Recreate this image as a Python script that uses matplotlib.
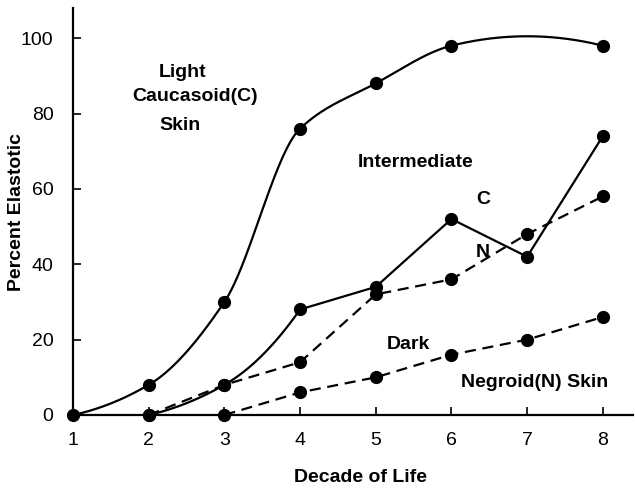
import numpy as np
import matplotlib
matplotlib.use("Agg")
import matplotlib.pyplot as plt

plt.rcParams["font.family"] = ["Liberation Sans", "DejaVu Sans"]

# data
light_x = [1, 2, 3, 4, 5, 6, 8]
light_y = [0, 8, 30, 76, 88, 98, 98]

inter_c_x = [2, 3, 4, 5, 6, 7, 8]
inter_c_y = [0, 8, 28, 34, 52, 42, 74]

inter_n_x = [2, 3, 4, 5, 6, 7, 8]
inter_n_y = [0, 8, 14, 32, 36, 48, 58]

dark_x = [3, 4, 5, 6, 7, 8]
dark_y = [0, 6, 10, 16, 20, 26]

xticks = [1, 2, 3, 4, 5, 6, 7, 8]
yticks = [0, 20, 40, 60, 80, 100]


def smooth(xs, ys, n=40):
    # cubic hermite curve through the points (drawing only, markers use raw data)
    x = np.asarray(xs, dtype=float)
    y = np.asarray(ys, dtype=float)
    d = np.diff(y) / np.diff(x)
    m = np.zeros(len(x))
    for i in range(1, len(x) - 1):
        a, b = d[i - 1], d[i]
        if a * b > 0:
            m[i] = 2 * a * b / (a + b)
        else:
            m[i] = (a + b) / 2
    m[0] = 2 * d[0] - m[1]
    m[-1] = 2 * d[-1] - m[-2]
    out_x, out_y = [], []
    for i in range(len(x) - 1):
        h = x[i + 1] - x[i]
        t = np.linspace(0, 1, n)
        h00 = 2 * t ** 3 - 3 * t ** 2 + 1
        h10 = t ** 3 - 2 * t ** 2 + t
        h01 = -2 * t ** 3 + 3 * t ** 2
        h11 = t ** 3 - t ** 2
        out_x.extend(x[i] + t * h)
        out_y.extend(h00 * y[i] + h10 * h * m[i] + h01 * y[i + 1] + h11 * h * m[i + 1])
    return out_x, out_y


fig = plt.figure(figsize=(6.35, 4.88), dpi=100)
ax = fig.add_axes([0.1150, 0.1496, 0.8820, 0.834])

lw = 1.6
ms = 8.5

# light caucasoid skin
sx, sy = smooth(light_x, light_y)
ax.plot(sx, sy, color="black", lw=lw, clip_on=False)
ax.plot(light_x, light_y, "o", color="black", ms=ms, clip_on=False)

# intermediate, caucasoid (curved start, then straight)
sx, sy = smooth(inter_c_x[:3], inter_c_y[:3])
ax.plot(sx + inter_c_x[3:], sy + inter_c_y[3:], color="black", lw=lw, clip_on=False)
ax.plot(inter_c_x, inter_c_y, "o", color="black", ms=ms, clip_on=False)

# intermediate, negroid
ax.plot(inter_n_x, inter_n_y, color="black", lw=lw, dashes=(5, 3),
        marker="o", ms=ms, clip_on=False)

# dark negroid skin
ax.plot(dark_x, dark_y, color="black", lw=lw, dashes=(5, 3),
        marker="o", ms=ms, clip_on=False)

ax.set_xlim(1, 8.4)
ax.set_ylim(0, 108)
ax.set_xticks(xticks)
ax.set_yticks(yticks)
ax.tick_params(direction="in", length=6, width=1.2, labelsize=14)
ax.tick_params(axis="x", pad=12)
ax.tick_params(axis="y", pad=14)
ax.spines["top"].set_visible(False)
ax.spines["right"].set_visible(False)
ax.spines["left"].set_linewidth(1.6)
ax.spines["bottom"].set_linewidth(1.6)

lab_kw = dict(fontsize=14, fontweight="bold", ha="center", va="center")
fig.text(360 / 635, 1 - 478 / 488, "Decade of Life", **lab_kw)
fig.text(17 / 635, 1 - 212 / 488, "Percent Elastotic", rotation=90, **lab_kw)

tkw = dict(fontsize=14, fontweight="bold", ha="center", va="center")
ax.text(2.45, 91, "Light", **tkw)
ax.text(2.61, 84.4, "Caucasoid(C)", **tkw)
ax.text(2.41, 76.9, "Skin", **tkw)
ax.text(5.53, 67.1, "Intermediate", **tkw)
ax.text(6.42, 57.3, "C", **tkw)
ax.text(6.42, 43.2, "N", **tkw)
ax.text(5.43, 18.6, "Dark", **tkw)
ax.text(7.10, 8.75, "Negroid(N) Skin", **tkw)

fig.savefig("out.png", dpi=100)
